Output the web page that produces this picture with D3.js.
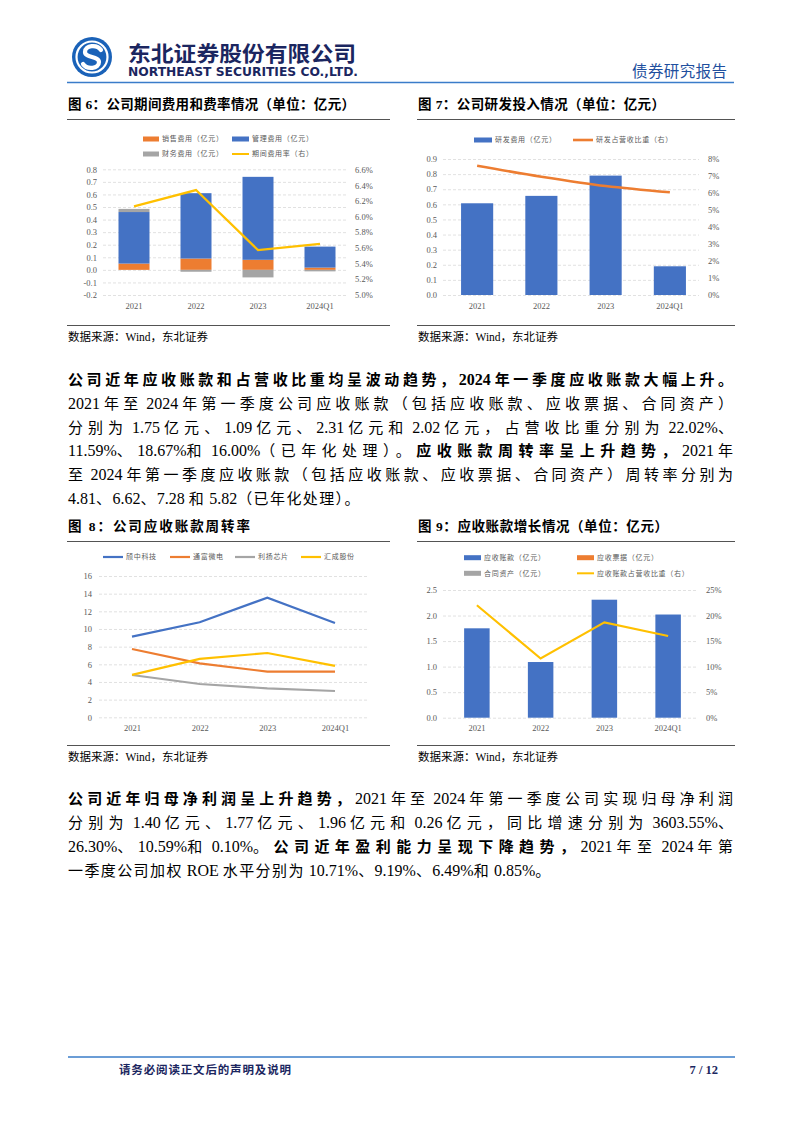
<!DOCTYPE html>
<html><head><meta charset="utf-8">
<script src="https://cdn.jsdelivr.net/npm/d3@7"></script>
<style>
body{margin:0;background:#fff}
.body{font-family:'Liberation Serif','Noto Sans CJK SC',serif;font-size:15px;fill:#000}
.lat{font-size:16px}
.ttl{font-family:'Liberation Serif','Noto Sans CJK SC',serif;font-size:13.5px;font-weight:bold;fill:#000}
.src{font-family:'Liberation Serif','Noto Sans CJK SC',serif;font-size:11.5px;fill:#000}
.tick{font-family:'Liberation Serif','Noto Sans CJK SC',serif;font-size:8.5px;fill:#595959}
.lg{font-family:'Noto Sans CJK SC',sans-serif;font-size:7px;fill:#595959;letter-spacing:0.7px}
</style>
</head><body>
<svg id="page" width="802" height="1133"></svg>
<script>
// ---------- DATA ----------
const years = ["2021", "2022", "2023", "2024Q1"];
// Fig 6
const salesExp = [0.05, 0.09, 0.08, 0.018];
const adminExp = [0.41, 0.52, 0.66, 0.167];
const finExp = [0.025, -0.015, -0.06, -0.012];
const expRate = [6.13, 6.34, 5.57, 5.65];
const fig6LeftTicks = [-0.2, -0.1, 0.0, 0.1, 0.2, 0.3, 0.4, 0.5, 0.6, 0.7, 0.8];
const fig6RightTicks = [5.0, 5.2, 5.4, 5.6, 5.8, 6.0, 6.2, 6.4, 6.6];
const fig6Legend = ["销售费用（亿元）", "管理费用（亿元）", "财务费用（亿元）", "期间费用率（右）"];
// Fig 7
const rdExp = [0.607, 0.656, 0.79, 0.19];
const rdRatio = [7.6, 6.96, 6.41, 6.04];
const fig7LeftTicks = [0, 0.1, 0.2, 0.3, 0.4, 0.5, 0.6, 0.7, 0.8, 0.9];
const fig7RightTicks = [0, 1, 2, 3, 4, 5, 6, 7, 8];
const fig7Legend = ["研发费用（亿元）", "研发占营收比重（右）"];
// Fig 8
const fig8Names = ["颀中科技", "通富微电", "利扬芯片", "汇成股份"];
const turnQZ = [9.13, 10.76, 13.55, 10.68];
const turnTF = [7.73, 6.11, 5.17, 5.17];
const turnLY = [4.79, 3.77, 3.28, 2.98];
const turnHC = [4.81, 6.62, 7.28, 5.82];
const fig8Ticks = [0, 2, 4, 6, 8, 10, 12, 14, 16];
// Fig 9
const arAmount = [1.75, 1.09, 2.31, 2.02];
const notesRec = [0, 0, 0, 0];
const contractAssets = [0, 0, 0, 0];
const arRatio = [22.02, 11.59, 18.67, 16.00];
const fig9LeftTicks = [0, 0.5, 1.0, 1.5, 2.0, 2.5];
const fig9RightTicks = [0, 5, 10, 15, 20, 25];
const fig9Legend = ["应收账款（亿元）", "应收票据（亿元）", "合同资产（亿元）", "应收账款占营收比重（右）"];

const C = {blue:"#4472C4", orange:"#ED7D31", grey:"#A5A5A5", yellow:"#FFC000"};
const svg = d3.select("#page");
const CJK = /[\u3000-\u303f\u4e00-\u9fff\uff00-\uffef]/;
const RUNS = /[\u3000-\u303f\u4e00-\u9fff\uff00-\uffef]+|[^\u3000-\u303f\u4e00-\u9fff\uff00-\uffef]+/g;

// ---------- HEADER ----------
const logo = svg.append("g");
logo.append("circle").attr("cx",92).attr("cy",57).attr("r",20).attr("fill","#1a62b8");
logo.append("circle").attr("cx",92).attr("cy",57).attr("r",15.5).attr("fill","none").attr("stroke","#fff").attr("stroke-width",2.2);
logo.append("path").attr("d","M101 50 C97 44 85 45 85 52 C85 58 99 56 99 62 C99 69 87 70 83 64")
  .attr("fill","none").attr("stroke","#fff").attr("stroke-width",4.2).attr("stroke-linecap","round");
svg.append("text").attr("x",128).attr("y",61).text("东北证券股份有限公司")
  .attr("font-family","'Noto Sans CJK SC',sans-serif").attr("font-weight","bold").attr("font-size",21)
  .attr("fill","#1b2660").attr("textLength",228).attr("lengthAdjust","spacingAndGlyphs");
svg.append("text").attr("x",128).attr("y",76).text("NORTHEAST SECURITIES CO.,LTD.")
  .attr("font-family","'DejaVu Sans',sans-serif").attr("font-weight","bold").attr("font-size",11.5)
  .attr("fill","#1b2660").attr("textLength",230).attr("lengthAdjust","spacingAndGlyphs");
svg.append("text").attr("x",632).attr("y",77).text("债券研究报告")
  .attr("font-family","'Noto Sans CJK SC',sans-serif").attr("font-size",15.5)
  .attr("fill","#1f4f9e").attr("textLength",95);
svg.append("line").attr("x1",67).attr("x2",734).attr("y1",82.5).attr("y2",82.5)
  .attr("stroke","#3a7cc9").attr("stroke-width",1.6);

// ---------- TITLES / SOURCES ----------
function titleBlock(x, x2, y, text, lineY, w) {
  svg.append("text").attr("class","ttl").attr("x",x).attr("y",y).text(text).attr("textLength",w);
  svg.append("line").attr("x1",x-1).attr("x2",x2).attr("y1",lineY).attr("y2",lineY).attr("stroke","#404040").attr("stroke-width",0.9);
}
function sourceBlock(x, x2, lineY, y) {
  svg.append("line").attr("x1",x-1).attr("x2",x2).attr("y1",lineY).attr("y2",lineY).attr("stroke","#404040").attr("stroke-width",0.9);
  svg.append("text").attr("class","src").attr("x",x).attr("y",y).text("数据来源：Wind，东北证券");
}
titleBlock(68, 390, 109, "图 6：公司期间费用和费率情况（单位：亿元）", 119.5, 287);
titleBlock(418, 735, 109, "图 7：公司研发投入情况（单位：亿元）", 119.5, 247);
sourceBlock(68, 390, 325.5, 341);
sourceBlock(418, 735, 325.5, 341);
titleBlock(68, 390, 531, "图 8：公司应收账款周转率", 541.5, 182);
titleBlock(418, 735, 531, "图 9：应收账款增长情况（单位：亿元）", 541.5, 250);
sourceBlock(68, 390, 745.5, 761);
sourceBlock(418, 735, 745.5, 761);

// ---------- HELPERS ----------
function grid(g, y, ticks, x1, x2) {
  g.append("g").selectAll("line").data(ticks).join("line")
    .attr("x1",x1).attr("x2",x2).attr("y1",d=>y(d)+0.5).attr("y2",d=>y(d)+0.5)
    .attr("stroke","#d9d9d9").attr("stroke-width",0.8).attr("stroke-dasharray","3,2");
}
function styleAxis(a) {
  a.select(".domain").remove();
  a.selectAll("text").attr("class","tick").attr("font-family",null).attr("font-size",null).attr("fill",null);
  a.attr("font-family",null).attr("font-size",null);
}
function leftAxis(g, y, ticks, x, fmt) {
  styleAxis(g.append("g").attr("transform",`translate(${x},0)`)
    .call(d3.axisLeft(y).tickValues(ticks).tickSize(0).tickPadding(0).tickFormat(fmt)));
}
function rightAxis(g, y, ticks, x, fmt) {
  styleAxis(g.append("g").attr("transform",`translate(${x},0)`)
    .call(d3.axisRight(y).tickValues(ticks).tickSize(0).tickPadding(0).tickFormat(fmt)));
}
function xAxis(g, x, yPos) {
  styleAxis(g.append("g").attr("transform",`translate(0,${yPos})`)
    .call(d3.axisBottom(x).tickSize(0).tickPadding(0)));
}
function lgRect(g, x, y, color, label, w, fs) {
  g.append("rect").attr("x",x).attr("y",y-2.5).attr("width",w).attr("height",5).attr("fill",color);
  g.append("text").attr("class","lg").attr("x",x+w+3).attr("y",y).attr("dy","0.35em").attr("font-size",fs).text(label);
}
function lgLine(g, x, y, color, label, w, fs, sw) {
  g.append("line").attr("x1",x).attr("x2",x+w).attr("y1",y).attr("y2",y).attr("stroke",color).attr("stroke-width",sw||2);
  g.append("text").attr("class","lg").attr("x",x+w+3).attr("y",y).attr("dy","0.35em").attr("font-size",fs).text(label);
}
const f1 = d => d.toFixed(1);

// ---------- FIG 6 ----------
{
  const g = svg.append("g");
  const x = d3.scaleBand().domain(years).range([103, 351]).paddingInner(0.5).paddingOuter(0.25);
  const y = d3.scaleLinear().domain([-0.2, 0.8]).range([295, 169.3]);
  const yr = d3.scaleLinear().domain([5.0, 6.6]).range([294.5, 169.8]);
  grid(g, y, fig6LeftTicks, 103, 348);
  leftAxis(g, y, fig6LeftTicks, 97, f1);
  rightAxis(g, yr, fig6RightTicks, 355, d => d.toFixed(1) + "%");
  xAxis(g, x, 303);
  const rows = years.map((yy,i)=>({year:yy, s:salesExp[i], a:adminExp[i], f:finExp[i]}));
  const stack = d3.stack().keys(["s","a","f"]).offset(d3.stackOffsetDiverging)(rows);
  const cols = {s:C.orange, a:C.blue, f:C.grey};
  stack.forEach(layer => {
    g.append("g").selectAll("rect").data(layer).join("rect")
      .attr("x", d => x(d.data.year)).attr("width", x.bandwidth())
      .attr("y", d => y(Math.max(d[0], d[1]))).attr("height", d => Math.abs(y(d[0]) - y(d[1])))
      .attr("fill", cols[layer.key]);
  });
  g.append("path").datum(expRate)
    .attr("d", d3.line().x((d,i)=>x(years[i]) + x.bandwidth()/2).y(d=>yr(d)))
    .attr("fill","none").attr("stroke",C.yellow).attr("stroke-width",2.2);
  lgRect(g, 143, 139, C.orange, fig6Legend[0], 16, 7);
  lgRect(g, 232, 139, C.blue, fig6Legend[1], 17, 7);
  lgRect(g, 143, 154, C.grey, fig6Legend[2], 16, 7);
  lgLine(g, 232, 154, C.yellow, fig6Legend[3], 17, 7, 2);
}

// ---------- FIG 7 ----------
{
  const g = svg.append("g");
  const x = d3.scaleBand().domain(years).range([445, 702]).paddingInner(0.5).paddingOuter(0.25);
  const y = d3.scaleLinear().domain([0, 0.9]).range([295, 159]);
  const yr = d3.scaleLinear().domain([0, 8]).range([295, 159]);
  grid(g, y, fig7LeftTicks, 443, 699);
  leftAxis(g, y, fig7LeftTicks, 437, f1);
  rightAxis(g, yr, fig7RightTicks, 708, d => d + "%");
  xAxis(g, x, 303);
  g.append("g").selectAll("rect").data(rdExp).join("rect")
    .attr("x",(d,i)=>x(years[i])).attr("width",x.bandwidth())
    .attr("y",d=>y(d)).attr("height",d=>y(0)-y(d)).attr("fill",C.blue);
  g.append("path").datum(rdRatio)
    .attr("d", d3.line().curve(d3.curveMonotoneX).x((d,i)=>x(years[i]) + x.bandwidth()/2).y(d=>yr(d)))
    .attr("fill","none").attr("stroke",C.orange).attr("stroke-width",2.6);
  lgRect(g, 474, 140, C.blue, fig7Legend[0], 18, 7);
  lgLine(g, 573, 140, C.orange, fig7Legend[1], 20, 7, 2.6);
}

// ---------- FIG 8 ----------
{
  const g = svg.append("g");
  const x = d3.scalePoint().domain(years).range([132, 335]);
  const y = d3.scaleLinear().domain([0, 16]).range([717.3, 576]);
  grid(g, y, fig8Ticks, 99, 367);
  leftAxis(g, y, fig8Ticks, 92, d => d);
  styleAxis(g.append("g").attr("transform","translate(0,725)")
    .call(d3.axisBottom(x).tickSize(0).tickPadding(0)));
  const series = [turnQZ, turnTF, turnLY, turnHC];
  const colors = [C.blue, C.orange, C.grey, C.yellow];
  series.forEach((s,k)=>{
    g.append("path").datum(s)
      .attr("d", d3.line().x((d,i)=>x(years[i])).y(d=>y(d)))
      .attr("fill","none").attr("stroke",colors[k]).attr("stroke-width",2.2);
  });
  const lx = [103, 170, 235, 301];
  fig8Names.forEach((n,k)=> lgLine(g, lx[k], 557, colors[k], n, 20, 7.4, 2.2));
}

// ---------- FIG 9 ----------
{
  const g = svg.append("g");
  const x = d3.scaleBand().domain(years).range([445, 700]).paddingInner(0.6).paddingOuter(0.3);
  const y = d3.scaleLinear().domain([0, 2.5]).range([717.7, 590]);
  const yr = d3.scaleLinear().domain([0, 25]).range([717.7, 590]);
  grid(g, y, fig9LeftTicks, 443, 697);
  leftAxis(g, y, fig9LeftTicks, 437, f1);
  rightAxis(g, yr, fig9RightTicks, 706, d => d + "%");
  xAxis(g, x, 725);
  const rows = years.map((yy,i)=>({year:yy, a:arAmount[i], n:notesRec[i], c:contractAssets[i]}));
  const stack = d3.stack().keys(["a","n","c"])(rows);
  const cols = {a:C.blue, n:C.orange, c:C.grey};
  stack.forEach(layer=>{
    g.append("g").selectAll("rect").data(layer).join("rect")
      .attr("x", d=>x(d.data.year)).attr("width", x.bandwidth())
      .attr("y", d=>y(d[1])).attr("height", d=>y(d[0])-y(d[1]))
      .attr("fill", cols[layer.key]);
  });
  g.append("path").datum(arRatio)
    .attr("d", d3.line().x((d,i)=>x(years[i]) + x.bandwidth()/2).y(d=>yr(d)))
    .attr("fill","none").attr("stroke",C.yellow).attr("stroke-width",2.2);
  lgRect(g, 464, 557.7, C.blue, fig9Legend[0], 17, 6.8);
  lgRect(g, 577, 557.7, C.orange, fig9Legend[1], 17, 6.8);
  lgRect(g, 464, 573.3, C.grey, fig9Legend[2], 17, 6.8);
  lgLine(g, 577, 573.3, C.yellow, fig9Legend[3], 17, 6.8, 2);
}

// ---------- BODY TEXT ----------
function para(lines, x, y0, lh, width, lastSpacing) {
  lines.forEach((ln,i)=>{
    const t = svg.append("text").attr("class","body").attr("x",x).attr("y",y0+i*lh);
    const cj = [];
    let endsCJK = false;
    ln.segs.forEach(s=>{
      s[0].match(RUNS).forEach(r=>{
        const sp = t.append("tspan").text(r).attr("font-weight", s[1] ? "bold" : null);
        const isC = CJK.test(r);
        if (isC) cj.push([sp, r.length]); else sp.attr("class","lat");
        endsCJK = isC;
      });
    });
    const n = d3.sum(cj, d=>d[1]);
    let ls = lastSpacing;
    if (ln.full) {
      const w = t.node().getComputedTextLength();
      ls = (width - w) / (n - (endsCJK ? 1 : 0));
    }
    cj.forEach(([sp])=>sp.style("letter-spacing", ls + "px"));
  });
}
para([
  {full:true, segs:[["公司近年应收账款和占营收比重均呈波动趋势，2024 年一季度应收账款大幅上升。",1]]},
  {full:true, segs:[["2021 年至 2024 年第一季度公司应收账款（包括应收账款、应收票据、合同资产）",0]]},
  {full:true, segs:[["分别为 1.75 亿元、1.09 亿元、2.31 亿元和 2.02 亿元，占营收比重分别为 22.02%、",0]]},
  {full:true, segs:[["11.59%、18.67%和 16.00%（已年化处理）。",0],["应收账款周转率呈上升趋势，",1],["2021 年",0]]},
  {full:true, segs:[["至 2024 年第一季度应收账款（包括应收账款、应收票据、合同资产）周转率分别为",0]]},
  {full:false, segs:[["4.81、6.62、7.28 和 5.82（已年化处理）。",0]]}
], 68, 385, 23.8, 665, 1.4);
para([
  {full:true, segs:[["公司近年归母净利润呈上升趋势，",1],["2021 年至 2024 年第一季度公司实现归母净利润",0]]},
  {full:true, segs:[["分别为 1.40 亿元、1.77 亿元、1.96 亿元和 0.26 亿元，同比增速分别为 3603.55%、",0]]},
  {full:true, segs:[["26.30%、10.59%和 0.10%。",0],["公司近年盈利能力呈现下降趋势，",1],["2021 年至 2024 年第",0]]},
  {full:false, segs:[["一季度公司加权 ROE 水平分别为 10.71%、9.19%、6.49%和 0.85%。",0]]}
], 68, 804, 24, 665, 1.4);

// ---------- FOOTER ----------
svg.append("line").attr("x1",68).attr("x2",735).attr("y1",1057).attr("y2",1057)
  .attr("stroke","#3a7cc9").attr("stroke-width",1.4);
svg.append("text").attr("x",119).attr("y",1074).text("请务必阅读正文后的声明及说明")
  .attr("font-family","'Noto Sans CJK SC',sans-serif").attr("font-weight","bold").attr("font-size",11.5)
  .attr("fill","#1b2660").attr("textLength",172);
svg.append("text").attr("x",718).attr("y",1074).attr("text-anchor","end").text("7 / 12")
  .attr("font-family","'Liberation Serif',serif").attr("font-weight","bold").attr("font-size",12.5)
  .attr("fill","#1b2660");
</script>
</body></html>
